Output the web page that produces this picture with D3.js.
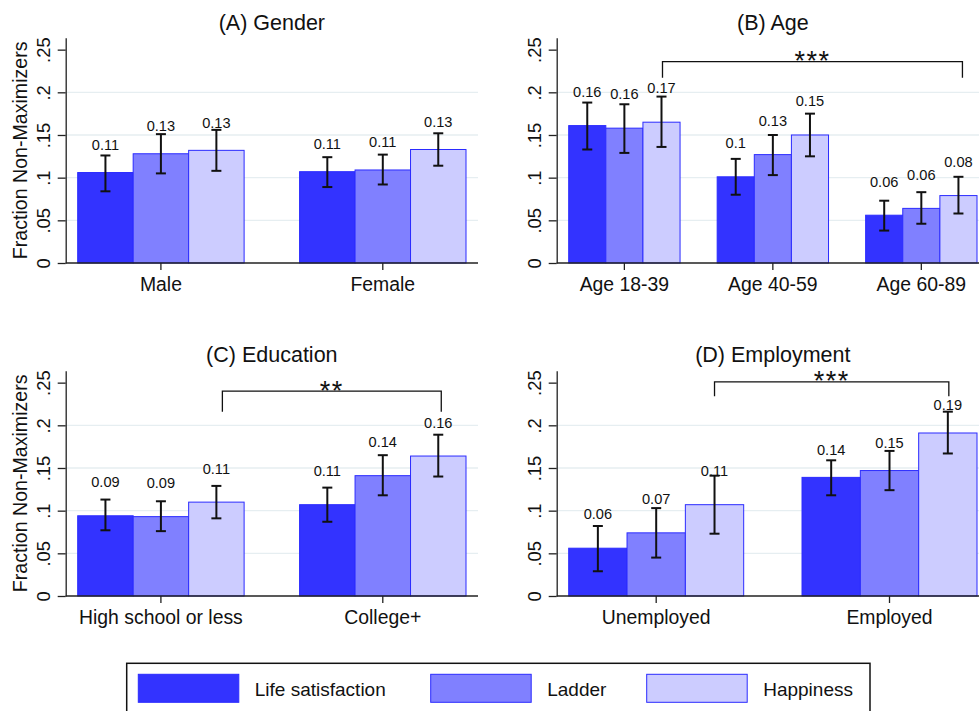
<!DOCTYPE html>
<html>
<head>
<meta charset="utf-8">
<script src="https://cdn.jsdelivr.net/npm/d3@7/dist/d3.min.js"></script>
<style>
  html, body { margin: 0; padding: 0; background: #fff; }
  svg { display: block; font-family: "Liberation Sans", Arial, Helvetica, sans-serif; }
</style>
</head>
<body>
<svg id="chart" width="979" height="711"></svg>
<script>
// ---------------- DATA ----------------
const seriesNames = ["Life satisfaction", "Ladder", "Happiness"];
const seriesColors = ["#3333ff", "#8080ff", "#ccccff"];

const panelTitles = ["(A) Gender", "(B) Age", "(C) Education", "(D) Employment"];

const genderCats = ["Male", "Female"];
const genderMean = [[0.106, 0.128, 0.132], [0.107, 0.109, 0.133]];
const genderLo   = [[0.084, 0.105, 0.108], [0.089, 0.092, 0.114]];
const genderHi   = [[0.126, 0.151, 0.156], [0.124, 0.127, 0.152]];

const ageCats = ["Age 18-39", "Age 40-59", "Age 60-89"];
const ageMean = [[0.161, 0.158, 0.165], [0.101, 0.127, 0.150], [0.056, 0.064, 0.079]];
const ageLo   = [[0.133, 0.129, 0.136], [0.080, 0.103, 0.125], [0.038, 0.046, 0.058]];
const ageHi   = [[0.188, 0.186, 0.195], [0.122, 0.150, 0.175], [0.073, 0.083, 0.101]];

const eduCats = ["High school or less", "College+"];
const eduMean = [[0.094, 0.093, 0.110], [0.107, 0.141, 0.164]];
const eduLo   = [[0.077, 0.076, 0.091], [0.087, 0.118, 0.140]];
const eduHi   = [[0.113, 0.111, 0.129], [0.127, 0.165, 0.189]];

const empCats = ["Unemployed", "Employed"];
const empMean = [[0.056, 0.074, 0.107], [0.139, 0.147, 0.191]];
const empLo   = [[0.029, 0.045, 0.073], [0.118, 0.124, 0.167]];
const empHi   = [[0.082, 0.103, 0.141], [0.159, 0.170, 0.216]];

const yTickValues = [0, 0.05, 0.1, 0.15, 0.2, 0.25];
const yGridValues = [0.05, 0.1, 0.15, 0.2];
const yAxisTitle = "Fraction Non-Maximizers";

// significance brackets
const bracketPanel = [1, 2, 3];
const bracketFrom  = [0, 0, 0];
const bracketTo    = [2, 1, 1];
const bracketTop   = [0.236, 0.240, 0.251];
const bracketFoot  = [0.217, 0.216, 0.234];
const bracketStars = ["***", "**", "***"];

// ---------------- LAYOUT ----------------
const panelData = [
  {cats: genderCats, mean: genderMean, lo: genderLo, hi: genderHi},
  {cats: ageCats, mean: ageMean, lo: ageLo, hi: ageHi},
  {cats: eduCats, mean: eduMean, lo: eduLo, hi: eduHi},
  {cats: empCats, mean: empMean, lo: empLo, hi: empHi}
];
const panelLayout = [
  {x0: 65.7, x1: 478, y0: 263, yTop: 37.7, titleY: 30, catY: 290.7, yTitle: true, labelGap: [22.7, 22.7]},
  {x0: 556.7, x1: 989, y0: 263, yTop: 37.7, titleY: 30, catY: 290.7, yTitle: false, labelGap: [28.7, 28.7, 28.7]},
  {x0: 65.7, x1: 478, y0: 596, yTop: 370.7, titleY: 362, catY: 624.3, yTitle: true, labelGap: [28.5, 28.5]},
  {x0: 556.7, x1: 989, y0: 596, yTop: 370.7, titleY: 362, catY: 624.3, yTitle: false, labelGap: [29, 22.7]}
];
const bracketDx = [[1, 4], [6, 3], [0, 1]];

const svg = d3.select("#chart");
svg.append("rect").attr("width", 979).attr("height", 711).attr("fill", "#fff");

const fmt = v => String(Math.round(v * 100) / 100);

const scales = [];

panelData.forEach((pd, pi) => {
  const L = panelLayout[pi];
  const g = svg.append("g");
  const y = d3.scaleLinear().domain([0, 0.264]).range([L.y0, L.yTop]);
  const x = d3.scaleBand().domain(pd.cats).range([L.x0 + 12, L.x1 - 12]).paddingInner(0.25).paddingOuter(0);
  const xs = d3.scaleBand().domain(seriesNames).range([0, x.bandwidth()]).padding(0);
  scales.push({x, xs, y});

  // grid
  g.append("g").selectAll("line").data(yGridValues).join("line")
    .attr("x1", L.x0).attr("x2", L.x1)
    .attr("y1", d => y(d)).attr("y2", d => y(d))
    .attr("stroke", "#e6eef1").attr("stroke-width", 1.3);

  // title
  g.append("text").attr("x", (L.x0 + L.x1) / 2).attr("y", L.titleY)
    .attr("text-anchor", "middle").attr("font-size", 21.5).attr("fill", "#111")
    .text(panelTitles[pi]);

  // bars
  pd.cats.forEach((c, ci) => {
    const gg = g.append("g").attr("transform", `translate(${x(c)},0)`);
    seriesNames.forEach((s, si) => {
      const v = pd.mean[ci][si];
      gg.append("rect")
        .attr("x", xs(s)).attr("width", xs.bandwidth())
        .attr("y", y(v)).attr("height", y(0) - y(v))
        .attr("fill", seriesColors[si]).attr("stroke", "#2b2bff").attr("stroke-width", 1);
    });
    seriesNames.forEach((s, si) => {
      const cx = xs(s) + xs.bandwidth() / 2;
      const lo = pd.lo[ci][si], hi = pd.hi[ci][si];
      gg.append("line").attr("x1", cx).attr("x2", cx).attr("y1", y(lo)).attr("y2", y(hi))
        .attr("stroke", "#111").attr("stroke-width", 2);
      [lo, hi].forEach(e => gg.append("line").attr("x1", cx - 5).attr("x2", cx + 5)
        .attr("y1", y(e)).attr("y2", y(e)).attr("stroke", "#111").attr("stroke-width", 2));
      gg.append("text").attr("x", cx).attr("y", y(pd.mean[ci][si]) - L.labelGap[ci])
        .attr("text-anchor", "middle").attr("font-size", 14.6).attr("fill", "#111")
        .text(fmt(pd.mean[ci][si]));
    });
  });

  // y axis
  const ya = d3.axisLeft(y).tickValues(yTickValues).tickSize(8).tickSizeOuter(0)
    .tickFormat(d => d === 0 ? "0" : String(d).replace(/^0/, ""));
  const yg = g.append("g").attr("transform", `translate(${L.x0},0)`).call(ya);
  yg.select(".domain").attr("stroke", "#222").attr("stroke-width", 1.3);
  yg.selectAll(".tick line").attr("stroke", "#222").attr("stroke-width", 1.3);
  yg.selectAll(".tick text").attr("x", null).attr("dy", null)
    .attr("transform", "translate(-15.7,0) rotate(-90)")
    .attr("text-anchor", "middle").attr("font-size", 18.4).attr("fill", "#111")
    .attr("font-family", "Liberation Sans, Arial, sans-serif");

  // x axis
  g.append("line").attr("x1", L.x0).attr("x2", L.x1).attr("y1", L.y0).attr("y2", L.y0)
    .attr("stroke", "#222").attr("stroke-width", 1.3);
  const xa = d3.axisBottom(x).tickSize(7).tickSizeOuter(0);
  const xg = g.append("g").attr("transform", `translate(0,${L.y0})`).call(xa);
  xg.select(".domain").remove();
  xg.selectAll(".tick line").attr("stroke", "#222").attr("stroke-width", 1.3);
  xg.selectAll(".tick text").attr("y", L.catY - L.y0).attr("dy", null)
    .attr("font-size", 19.4).attr("fill", "#111")
    .attr("font-family", "Liberation Sans, Arial, sans-serif");

  if (L.yTitle) {
    g.append("text").attr("transform", `translate(26.7,${(L.y0 + L.yTop) / 2}) rotate(-90)`)
      .attr("text-anchor", "middle").attr("font-size", 19.6).attr("fill", "#111")
      .text(yAxisTitle);
  }
});

// brackets
bracketPanel.forEach((p, i) => {
  const {x, xs, y} = scales[p];
  const cats = panelData[p].cats;
  const hx = xs("Happiness") + xs.bandwidth() / 2;
  const xa = x(cats[bracketFrom[i]]) + hx + bracketDx[i][0];
  const xb = x(cats[bracketTo[i]]) + hx + bracketDx[i][1];
  const yt = y(bracketTop[i]), yf = y(bracketFoot[i]);
  svg.append("path")
    .attr("d", `M${xa},${yf}L${xa},${yt}L${xb},${yt}L${xb},${yf}`)
    .attr("fill", "none").attr("stroke", "#111").attr("stroke-width", 1.3);
  const fs = 27;
  svg.append("text").attr("x", (xa + xb) / 2).attr("y", yt - 7 + 0.57 * fs)
    .attr("text-anchor", "middle").attr("font-size", fs).attr("letter-spacing", 1.5)
    .attr("fill", "#111")
    .text(bracketStars[i]);
});

// legend
const lg = svg.append("g");
lg.append("rect").attr("x", 126.7).attr("y", 663.3).attr("width", 743.3).attr("height", 70)
  .attr("fill", "#fff").attr("stroke", "#111").attr("stroke-width", 1.5);
const legendSwatchX = [138.3, 430.7, 646.7];
seriesNames.forEach((s, i) => {
  lg.append("rect").attr("x", legendSwatchX[i]).attr("y", 674.3).attr("width", 100.5).attr("height", 28)
    .attr("fill", seriesColors[i]).attr("stroke", "#2b2bff").attr("stroke-width", 1);
  lg.append("text").attr("x", legendSwatchX[i] + 116.5).attr("y", 695.7)
    .attr("font-size", 19).attr("fill", "#111").text(s);
});
</script>
</body>
</html>
